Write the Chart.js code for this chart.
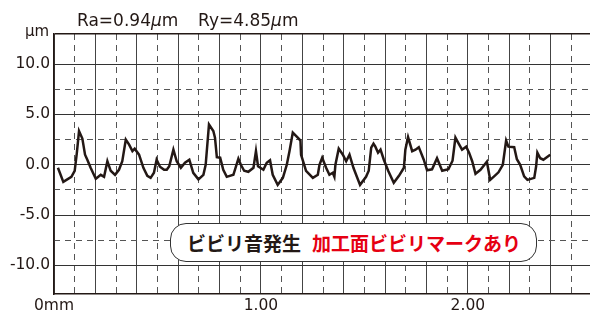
<!DOCTYPE html>
<html>
<head>
<meta charset="utf-8">
<script src="https://cdn.jsdelivr.net/npm/chart.js@4/dist/chart.umd.min.js"></script>
<style>
  html, body { margin:0; padding:0; background:#fff; overflow:hidden; width:590px; height:315px; }
  #wrap { position:relative; width:590px; height:315px; overflow:hidden; }
  canvas { position:absolute; left:0; top:0; }
  .t { position:absolute; font-family:"DejaVu Sans", sans-serif; color:#231815; white-space:nowrap; }
  .title { top:12px; font-size:17px; line-height:17px; }
  .unit { left:25px; top:24px; font-size:15px; line-height:15px; }
  #note { position:absolute; left:170px; top:223px; width:365px; height:37px; border:1.5px solid #333;
          border-radius:16px; background:#fff; display:flex; align-items:center; box-sizing:content-box;
          font-family:"Noto Sans CJK JP", sans-serif; font-weight:700; font-size:19px; white-space:nowrap; }
  #note .k { color:#231815; margin-left:16px; }
  #note .r { color:#e60012; margin-left:11px; }
</style>
</head>
<body>
<div id="wrap">
  <canvas id="c" width="596" height="315"></canvas>
  <div class="t title" style="left:77px">Ra=0.94<i>μ</i>m</div>
  <div class="t title" style="left:198px">Ry=4.85<i>μ</i>m</div>
  <div class="t unit">μm</div>
  <div id="note"><span class="k">ビビリ音発生</span><span class="r">加工面ビビリマークあり</span></div>
</div>
<script>
// ---- data ----
const profileX = [0.019,0.045,0.084,0.100,0.110,0.121,0.137,0.150,0.161,0.177,0.202,0.226,0.242,0.258,0.274,0.295,0.314,0.330,0.347,0.363,0.379,0.390,0.411,0.432,0.451,0.467,0.483,0.496,0.512,0.532,0.545,0.557,0.577,0.593,0.613,0.633,0.654,0.673,0.698,0.722,0.733,0.749,0.770,0.778,0.787,0.803,0.818,0.835,0.867,0.891,0.903,0.919,0.939,0.964,0.976,0.986,1.012,1.028,1.044,1.057,1.081,1.106,1.125,1.138,1.154,1.178,1.191,1.194,1.218,1.251,1.275,1.283,1.296,1.315,1.331,1.347,1.355,1.360,1.376,1.396,1.412,1.428,1.447,1.479,1.508,1.521,1.533,1.544,1.553,1.566,1.578,1.594,1.615,1.642,1.667,1.691,1.698,1.711,1.731,1.747,1.763,1.787,1.803,1.827,1.851,1.876,1.906,1.926,1.940,1.953,1.972,1.992,2.006,2.021,2.037,2.061,2.092,2.108,2.127,2.148,2.169,2.185,2.196,2.224,2.237,2.253,2.272,2.288,2.321,2.330,2.336,2.350,2.365,2.398];
const profileY = [-0.3,-1.7,-1.2,-0.6,1.1,3.35,2.6,1.0,0.5,-0.3,-1.4,-1.0,-1.2,0.35,-0.6,-1.0,-0.5,0.35,2.5,2.0,1.35,1.6,1.0,-0.3,-1.1,-1.3,-0.8,0.5,-0.2,-0.5,-0.5,-0.15,1.5,0.35,-0.3,0.2,0.5,-0.8,-1.45,-1.0,0.0,4.0,3.35,2.7,0.75,0.7,-0.5,-1.2,-1.0,0.6,0.0,-0.6,-0.7,-0.3,1.35,-0.15,-0.5,0.2,0.45,-1.0,-2.0,-1.3,0.0,1.35,3.2,2.7,2.4,1.0,-0.6,-1.3,-1.0,0.0,0.7,-0.3,-1.0,-0.8,-1.2,0.0,1.6,1.0,0.35,1.0,-0.3,-2.0,-1.2,-0.6,1.7,2.1,1.8,1.2,1.5,0.5,-0.6,-1.8,-1.1,-0.3,1.5,2.75,1.35,1.5,1.75,0.5,-0.55,-0.45,0.65,-0.6,-0.45,0.4,2.7,2.2,1.5,1.8,1.2,0.35,-0.9,-0.5,0.3,-1.5,-1.15,-0.75,0.0,2.4,1.8,1.75,0.55,0.0,-1.15,-1.5,-1.3,-0.15,1.2,0.65,0.5,1.0];
const xGridSolid  = [0,0.2,0.4,0.6,0.8,1.0,1.2,1.4,1.6,1.8,2.0,2.2,2.4,2.6];
const xGridDashed = [0.1,0.3,0.5,0.7,0.9,1.1,1.3,1.5,1.7,1.9,2.1,2.3,2.5];
const xLabelValues = [0,1,2];
const xLabelTexts  = ['0mm','1.00','2.00'];
const yLabelValues = [-10,-5,0,5,10];
const yLabelTexts  = ['-10.0','-5.0','0.0','5.0','10.0'];
const yGridDashed = [-7.5,-2.5,2.5,7.5];
const xMin = 0, xMax = 2.6, yMin = -12.85, yMax = 13;
const yGridSolid  = yLabelValues.concat([yMax]);

const pts = profileX.map((x,i)=>({x:x, y:profileY[i]}));
const tickFont = {family:'"DejaVu Sans", sans-serif', size:15.5};

new Chart(document.getElementById('c'), {
  type:'line',
  data:{ datasets:[{ data:pts, borderColor:'#231815', borderWidth:2.5, pointRadius:0, tension:0, fill:false, xAxisID:'x', yAxisID:'y' }] },
  options:{
    responsive:false, animation:false, devicePixelRatio:1,
    layout:{ padding:{ top:34, right:4, left:0, bottom:0 } },
    plugins:{ legend:{display:false}, tooltip:{enabled:false}, title:{display:false} },
    scales:{
      x:{ type:'linear', position:'bottom', min:xMin, max:xMax,
          afterBuildTicks:s=>{ s.ticks = xGridSolid.map(v=>({value:v})); },
          afterFit:s=>{ s.height = 21; },
          ticks:{ autoSkip:false, maxRotation:0, padding:3, color:'#231815', font:tickFont,
                  callback:v=>{ const i = xLabelValues.findIndex(t=>Math.abs(t-v)<1e-6); return i>=0 ? xLabelTexts[i] : ''; } },
          grid:{ color:'#444', lineWidth:1, drawTicks:false },
          border:{ color:'#231815', width:1.5 } },
      x2:{ type:'linear', position:'top', min:xMin, max:xMax,
          afterBuildTicks:s=>{ s.ticks = xGridDashed.map(v=>({value:v})); },
          afterFit:s=>{ s.height = 0; },
          ticks:{ display:false },
          grid:{ color:'#555', lineWidth:1, drawTicks:false },
          border:{ display:false, dash:[6,5] } },
      y:{ type:'linear', position:'left', min:yMin, max:yMax,
          afterBuildTicks:s=>{ s.ticks = yGridSolid.map(v=>({value:v})); },
          afterFit:s=>{ s.width = 54; },
          ticks:{ autoSkip:false, padding:4, color:'#231815', font:tickFont,
                  callback:v=>{ const i = yLabelValues.findIndex(t=>Math.abs(t-v)<1e-6); return i>=0 ? yLabelTexts[i] : ''; } },
          grid:{ color:c=> (c.tick && Math.abs(c.tick.value-yMax)<1e-6) ? '#231815' : '#333',
                 lineWidth:c=> (c.tick && Math.abs(c.tick.value-yMax)<1e-6) ? 1.5 : 1, drawTicks:false },
          border:{ color:'#231815', width:1.5 } },
      y2:{ type:'linear', position:'right', min:yMin, max:yMax,
          afterBuildTicks:s=>{ s.ticks = yGridDashed.map(v=>({value:v})); },
          afterFit:s=>{ s.width = 0; },
          ticks:{ display:false },
          grid:{ color:'#555', lineWidth:1, drawTicks:false },
          border:{ display:false, dash:[6,5] } }
    }
  }
});
</script>
</body>
</html>
